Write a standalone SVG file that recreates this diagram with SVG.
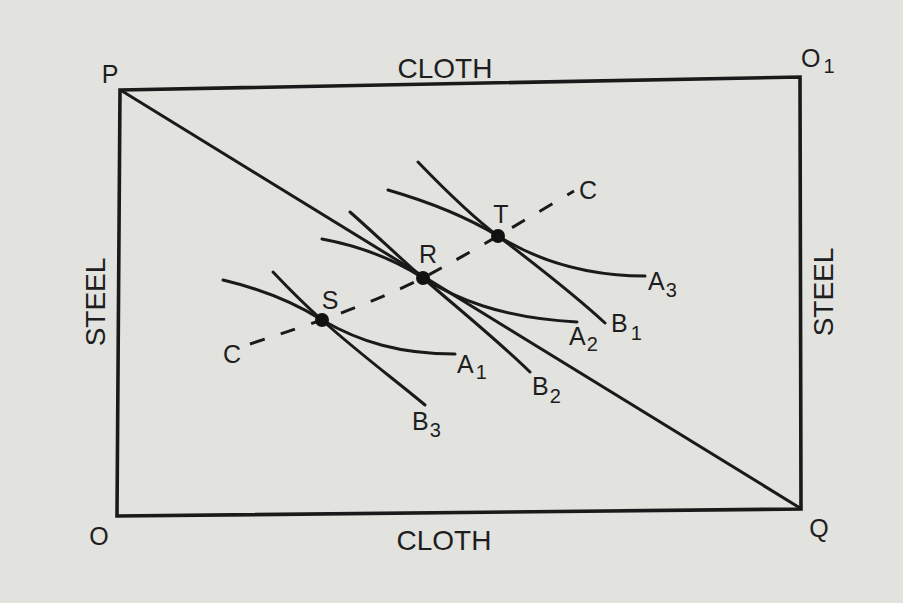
<svg xmlns="http://www.w3.org/2000/svg" width="903" height="603" viewBox="0 0 903 603">
<style>
.t{font-family:"Liberation Sans",Arial,sans-serif;fill:#1e1e1e;font-size:25px}
.b{font-size:28px}
.s{font-size:20px}
.box{fill:none;stroke:#1a1a1a;stroke-width:3.6;stroke-linejoin:miter}
.c{fill:none;stroke:#1a1a1a;stroke-width:3;stroke-linecap:round}
.d{fill:none;stroke:#1a1a1a;stroke-width:3;stroke-dasharray:15 17}
.dot{fill:#111}
</style>
<rect x="0" y="0" width="903" height="603" fill="#e2e2df"/>
<g id="box">
<path class="box" d="M120,90 L800,77 L801,509 L117,516 Z"/>
</g>
<g id="connectors">
<path id="diagonal" class="c" d="M122,91 L800,508"/>
<path id="contract" class="d" d="M250,344 Q290,331 322,320 Q378,300 423,278 Q460,258 498,236 Q535,214 574,191"/>
</g>
<g id="curveA3"><path class="c" d="M388,190 C440,205 475,222 498,236 C540,262 590,276 645,276"/></g>
<g id="curveB1"><path class="c" d="M418,162 C445,190 470,215 498,236 C540,268 578,298 605,323"/></g>
<g id="curveA2"><path class="c" d="M322,239 C360,246 395,260 423,278 C455,298 500,318 577,322"/></g>
<g id="curveB2"><path class="c" d="M350,212 C375,234 400,258 423,278 C455,306 495,338 530,372"/></g>
<g id="curveA1"><path class="c" d="M223,280 C265,290 295,303 322,320 C360,342 400,354 455,354"/></g>
<g id="curveB3"><path class="c" d="M273,272 C290,290 305,305 322,320 C355,350 395,380 425,405"/></g>
<g id="pointS"><circle class="dot" cx="322" cy="320" r="7"/><text class="t" x="330" y="309" text-anchor="middle">S</text></g>
<g id="pointR"><circle class="dot" cx="423" cy="278" r="7"/><text class="t" x="428" y="263" text-anchor="middle">R</text></g>
<g id="pointT"><circle class="dot" cx="498" cy="236" r="7"/><text class="t" x="501" y="223" text-anchor="middle">T</text></g>
<g id="labels">
<text class="t" x="110" y="83" text-anchor="middle">P</text>
<text class="t b" x="445" y="78" text-anchor="middle">CLOTH</text>
<text class="t" x="801" y="67">O<tspan class="s" dx="3" dy="6">1</tspan></text>
<text class="t" x="99" y="545" text-anchor="middle">O</text>
<text class="t b" x="444" y="550" text-anchor="middle">CLOTH</text>
<text class="t" x="819" y="537" text-anchor="middle">Q</text>
<text class="t b" transform="translate(105,302) rotate(-90)" text-anchor="middle">STEEL</text>
<text class="t b" transform="translate(833,292) rotate(-90)" text-anchor="middle">STEEL</text>
<text class="t" x="232" y="363" text-anchor="middle">C</text>
<text class="t" x="588" y="199" text-anchor="middle">C</text>
<text class="t" x="457" y="373">A<tspan class="s" dx="2" dy="6">1</tspan></text>
<text class="t" x="569" y="345">A<tspan class="s" dx="1" dy="6">2</tspan></text>
<text class="t" x="648" y="290">A<tspan class="s" dx="1" dy="7">3</tspan></text>
<text class="t" x="611" y="332">B<tspan class="s" dx="3" dy="8">1</tspan></text>
<text class="t" x="532" y="395">B<tspan class="s" dx="1" dy="8">2</tspan></text>
<text class="t" x="412" y="430">B<tspan class="s" dx="1" dy="7">3</tspan></text>
</g>
</svg>
